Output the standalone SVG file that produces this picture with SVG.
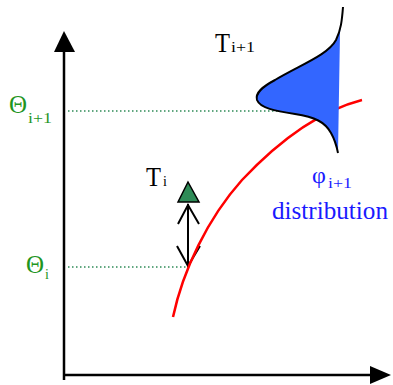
<svg xmlns="http://www.w3.org/2000/svg" width="393" height="385" viewBox="0 0 393 385">
<style>
.axis{stroke:#000;stroke-width:2.5;fill:none}
.guide{stroke:#2e8b57;stroke-width:1.5;stroke-dasharray:1.5 2.5;fill:none}
.green{fill:#1f961f}
.blue{fill:#1a1aff}
.black{fill:#000}
</style>
<rect width="393" height="385" fill="#fff"/>
<g id="axes">
<line class="axis" x1="64" y1="50" x2="64" y2="380"/>
<polygon points="64,31 54,52 75,52" fill="#000"/>
<line class="axis" x1="64" y1="375" x2="372" y2="375"/>
<polygon points="391,375 370,366 370,384" fill="#000"/>
</g>
<g id="connectors">
<line class="guide" x1="68" y1="111" x2="285" y2="111"/>
<line class="guide" x1="68" y1="267" x2="188" y2="267"/>
<g id="double-arrow" stroke="#000" stroke-width="2" fill="none">
<line x1="188" y1="204" x2="188" y2="267"/>
<polyline points="178,224 188,205 199,224"/>
<polyline points="177,246 188,266 200,246"/>
</g>
</g>
<g id="curve">
<path d="M173,317 C183,270 208,218 242,180 C275,145 315,112 362,100" stroke="#ff0000" stroke-width="2.5" fill="none"/>
</g>
<g id="distribution">
<path d="M343,7 C342,20 341,30 336,40 C328,55 300,65 275,80 C262,87 255,93 257,100 C260,108 275,111 295,114 C315,117 325,122 331,133 C335,140 337,148 338,153 L340,32 Z" fill="#3366ff" stroke="none"/>
<path d="M343,7 C342,20 341,30 336,40 C328,55 300,65 275,80 C262,87 255,93 257,100 C260,108 275,111 295,114 C315,117 325,122 331,133 C335,140 337,148 338,153" fill="none" stroke="#000" stroke-width="2"/>
</g>
<g id="marker-Ti">
<polygon points="188,182 178,202 199,202" fill="#2e8b57" stroke="#000" stroke-width="1.5"/>
</g>
<g id="labels" font-family="Liberation Serif, Times New Roman, serif">
<g id="theta-i1" class="green">
<text x="9" y="113" font-size="25">Θ</text>
<text x="28" y="123" font-size="14" textLength="24" lengthAdjust="spacingAndGlyphs">i+1</text>
</g>
<g id="theta-i" class="green">
<text x="26" y="273" font-size="25">Θ</text>
<text x="45" y="279" font-size="14">i</text>
</g>
<g id="T-i1" class="black">
<text x="215" y="52" font-size="27" textLength="15" lengthAdjust="spacingAndGlyphs">T</text>
<text x="231" y="52" font-size="14" textLength="24" lengthAdjust="spacingAndGlyphs">i+1</text>
</g>
<g id="T-i" class="black">
<text x="146" y="186" font-size="27" textLength="15" lengthAdjust="spacingAndGlyphs">T</text>
<text x="163" y="186" font-size="14">i</text>
</g>
<g id="phi" class="blue">
<text x="312" y="183" font-size="24">φ</text>
<text x="328" y="188" font-size="14" textLength="24" lengthAdjust="spacingAndGlyphs">i+1</text>
<text x="272" y="219" font-size="26" textLength="116" lengthAdjust="spacingAndGlyphs">distribution</text>
</g>
</g>
</svg>
